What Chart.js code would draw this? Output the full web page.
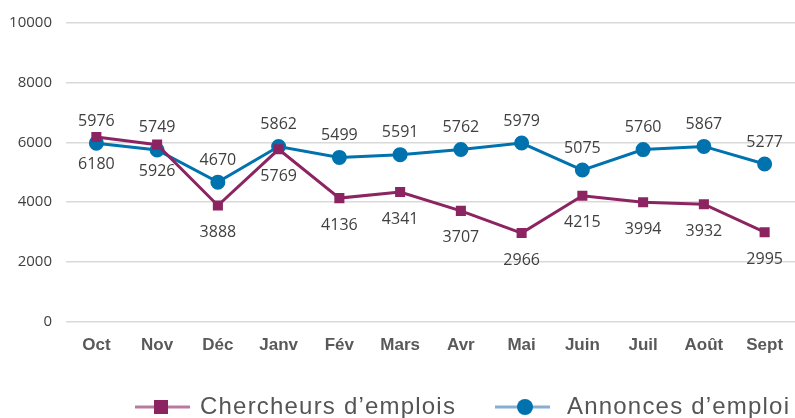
<!DOCTYPE html>
<html>
<head>
<meta charset="utf-8">
<script src="https://cdn.jsdelivr.net/npm/chart.js@4"></script>
<style>
  html, body { margin: 0; padding: 0; background: #fff; }
  #wrap { width: 795px; height: 418px; position: relative; overflow: hidden; }
</style>
</head>
<body>
<div id="wrap"><canvas id="chart"></canvas></div>
<script>
const mois = ['Oct', 'Nov', 'Déc', 'Janv', 'Fév', 'Mars', 'Avr', 'Mai', 'Juin', 'Juil', 'Août', 'Sept'];
const chercheurs = [6180, 5926, 3888, 5769, 4136, 4341, 3707, 2966, 4215, 3994, 3932, 2995];
const annonces = [5976, 5749, 4670, 5862, 5499, 5591, 5762, 5979, 5075, 5760, 5867, 5277];
const ticksY = [0, 2000, 4000, 6000, 8000, 10000];

const violet = '#8C2461';
const bleu = '#0072AE';

// étiquettes de valeurs : bleu au-dessus, violet en dessous
const etiquettes = {
  id: 'etiquettes',
  afterDatasetsDraw(chart) {
    const ctx = chart.ctx;
    ctx.save();
    ctx.font = '16px "Open Sans", "DejaVu Sans", sans-serif';
    ctx.fillStyle = '#404040';
    ctx.textAlign = 'center';
    ctx.textBaseline = 'middle';
    chart.data.datasets.forEach((ds, i) => {
      const meta = chart.getDatasetMeta(i);
      const dessus = ds.label.startsWith('Annonces');
      meta.data.forEach((pt, j) => {
        ctx.fillText(ds.data[j], pt.x, dessus ? pt.y - 22 : pt.y + 27);
      });
    });
    ctx.restore();
  }
};

// légende dessinée à la main (trait pâle + marqueur)
const legende = {
  id: 'legende',
  afterDraw(chart) {
    const ctx = chart.ctx;
    const y = 407;
    ctx.save();
    ctx.lineWidth = 3;
    ctx.strokeStyle = '#BA7A9D';
    ctx.beginPath(); ctx.moveTo(135, y); ctx.lineTo(190, y); ctx.stroke();
    ctx.fillStyle = violet;
    ctx.fillRect(154, y - 7, 14, 14);
    ctx.strokeStyle = '#86AED3';
    ctx.beginPath(); ctx.moveTo(495, y); ctx.lineTo(550, y); ctx.stroke();
    ctx.fillStyle = bleu;
    ctx.beginPath(); ctx.arc(525, y, 8, 0, Math.PI * 2); ctx.fill();
    ctx.font = '24px "Liberation Sans", Arial, sans-serif';
    ctx.letterSpacing = '1.2px';
    ctx.fillStyle = '#555555';
    ctx.textBaseline = 'alphabetic';
    ctx.textAlign = 'left';
    ctx.fillText('Chercheurs d\u2019emplois', 200, 414);
    ctx.fillText('Annonces d\u2019emploi', 567, 414);
    ctx.restore();
  }
};

new Chart(document.getElementById('chart'), {
  type: 'line',
  data: {
    labels: mois,
    datasets: [
      {
        label: 'Chercheurs d\u2019emplois',
        data: chercheurs,
        borderColor: violet,
        backgroundColor: violet,
        borderWidth: 3,
        pointStyle: 'rect',
        pointRadius: 5,
        pointHoverRadius: 5,
        tension: 0
      },
      {
        label: 'Annonces d\u2019emploi',
        data: annonces,
        borderColor: bleu,
        backgroundColor: bleu,
        borderWidth: 3,
        pointStyle: 'circle',
        pointRadius: 6,
        pointHoverRadius: 6,
        tension: 0
      }
    ]
  },
  options: {
    responsive: true,
    maintainAspectRatio: false,
    animation: false,
    layout: { autoPadding: false, padding: { top: 23, right: -2, left: 0, bottom: 48 } },
    plugins: {
      legend: { display: false },
      tooltip: { enabled: false }
    },
    scales: {
      x: {
        offset: true,
        afterFit(axis) { axis.paddingLeft = 0; axis.paddingRight = 0; },
        grid: { display: false, drawTicks: false },
        border: { display: false },
        ticks: {
          color: '#595959',
          padding: 14,
          maxRotation: 0,
          autoSkip: false,
          font: { family: '"Liberation Sans", Arial, sans-serif', size: 17, weight: 'bold' }
        }
      },
      y: {
        min: 0,
        max: 10000,
        afterBuildTicks(axis) { axis.ticks = ticksY.map(v => ({ value: v })); },
        afterFit(axis) { axis.width = 66; axis.paddingTop = 0; axis.paddingBottom = 0; },
        grid: { color: '#D9D9D9', lineWidth: 1.5, drawTicks: false },
        border: { display: false },
        ticks: {
          color: '#404040',
          padding: 14,
          callback: v => String(v),
          font: { family: '"Open Sans", "DejaVu Sans", sans-serif', size: 15 }
        }
      }
    }
  },
  plugins: [etiquettes, legende]
});
</script>
</body>
</html>
